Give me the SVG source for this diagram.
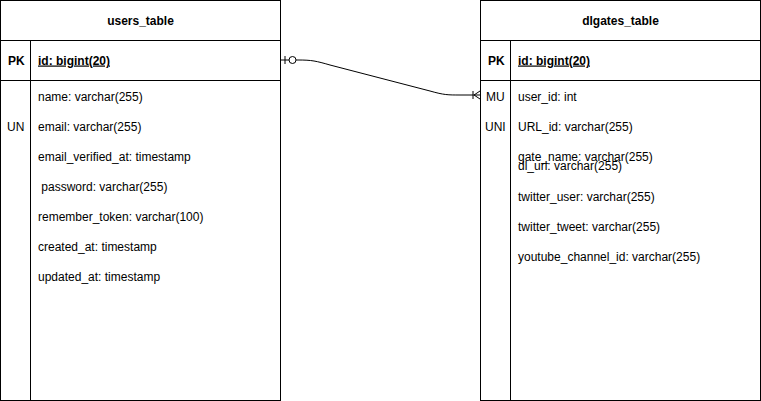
<svg xmlns="http://www.w3.org/2000/svg" width="761" height="401" viewBox="0 0 761 401">
<style>
.box{fill:#fff;stroke:#000;stroke-width:1}
.ln{stroke:#000;stroke-width:1;fill:none}
text{font-family:"Liberation Sans",Arial,Helvetica,sans-serif;font-size:12px;fill:#000}
.b{font-weight:bold}
.u{text-decoration:underline}
.c{text-anchor:middle}
</style>
<rect width="761" height="401" fill="#fff"/>
<g id="connectors">
<path class="ln" d="M280,60 L298,60 C312,60 316,61 330,65 L430,91 C444,95 448,95 460,95 L480,95"/>
<line class="ln" x1="285" y1="56" x2="285" y2="64"/>
<circle cx="292.5" cy="60" r="3.5" fill="#fff" stroke="#000"/>
<line class="ln" x1="473" y1="91" x2="473" y2="99"/>
<path class="ln" d="M480,91 L474,95 L480,99"/>
</g>
<g id="users_table">
<rect class="box" x="0.5" y="0.5" width="280" height="400"/>
<line class="ln" x1="0.5" y1="40.5" x2="280.5" y2="40.5"/>
<line class="ln" x1="0.5" y1="80.5" x2="280.5" y2="80.5"/>
<line class="ln" x1="30.5" y1="40.5" x2="30.5" y2="400.5"/>
<text class="b c" x="140.5" y="25">users_table</text>
<text class="b" x="8" y="64.5">PK</text>
<text class="b u" x="38" y="64.5">id: bigint(20)</text>
<text x="38" y="100.5">name: varchar(255)</text>
<text x="7" y="130.5">UN</text>
<text x="38" y="130.5">email: varchar(255)</text>
<text x="38" y="160.5">email_verified_at: timestamp</text>
<text x="38" y="190.5" xml:space="preserve"> password: varchar(255)</text>
<text x="38" y="220.5">remember_token: varchar(100)</text>
<text x="38" y="250.5">created_at: timestamp</text>
<text x="38" y="280.5">updated_at: timestamp</text>
</g>
<g id="dlgates_table">
<rect class="box" x="480.5" y="0.5" width="280" height="400"/>
<line class="ln" x1="480.5" y1="40.5" x2="760.5" y2="40.5"/>
<line class="ln" x1="480.5" y1="80.5" x2="760.5" y2="80.5"/>
<line class="ln" x1="510.5" y1="40.5" x2="510.5" y2="400.5"/>
<text class="b c" x="620.5" y="25">dlgates_table</text>
<text class="b" x="488" y="64.5">PK</text>
<text class="b u" x="518" y="64.5">id: bigint(20)</text>
<text x="486" y="100.5">MU</text>
<text x="518" y="100.5">user_id: int</text>
<text x="485" y="130.5">UNI</text>
<text x="518" y="130.5">URL_id: varchar(255)</text>
<text x="518" y="160.5">gate_name: varchar(255)</text>
<text x="518" y="170">dl_url: varchar(255)</text>
<text x="518" y="200.5">twitter_user: varchar(255)</text>
<text x="518" y="230.5">twitter_tweet: varchar(255)</text>
<text x="518" y="260.5">youtube_channel_id: varchar(255)</text>
</g>
</svg>
